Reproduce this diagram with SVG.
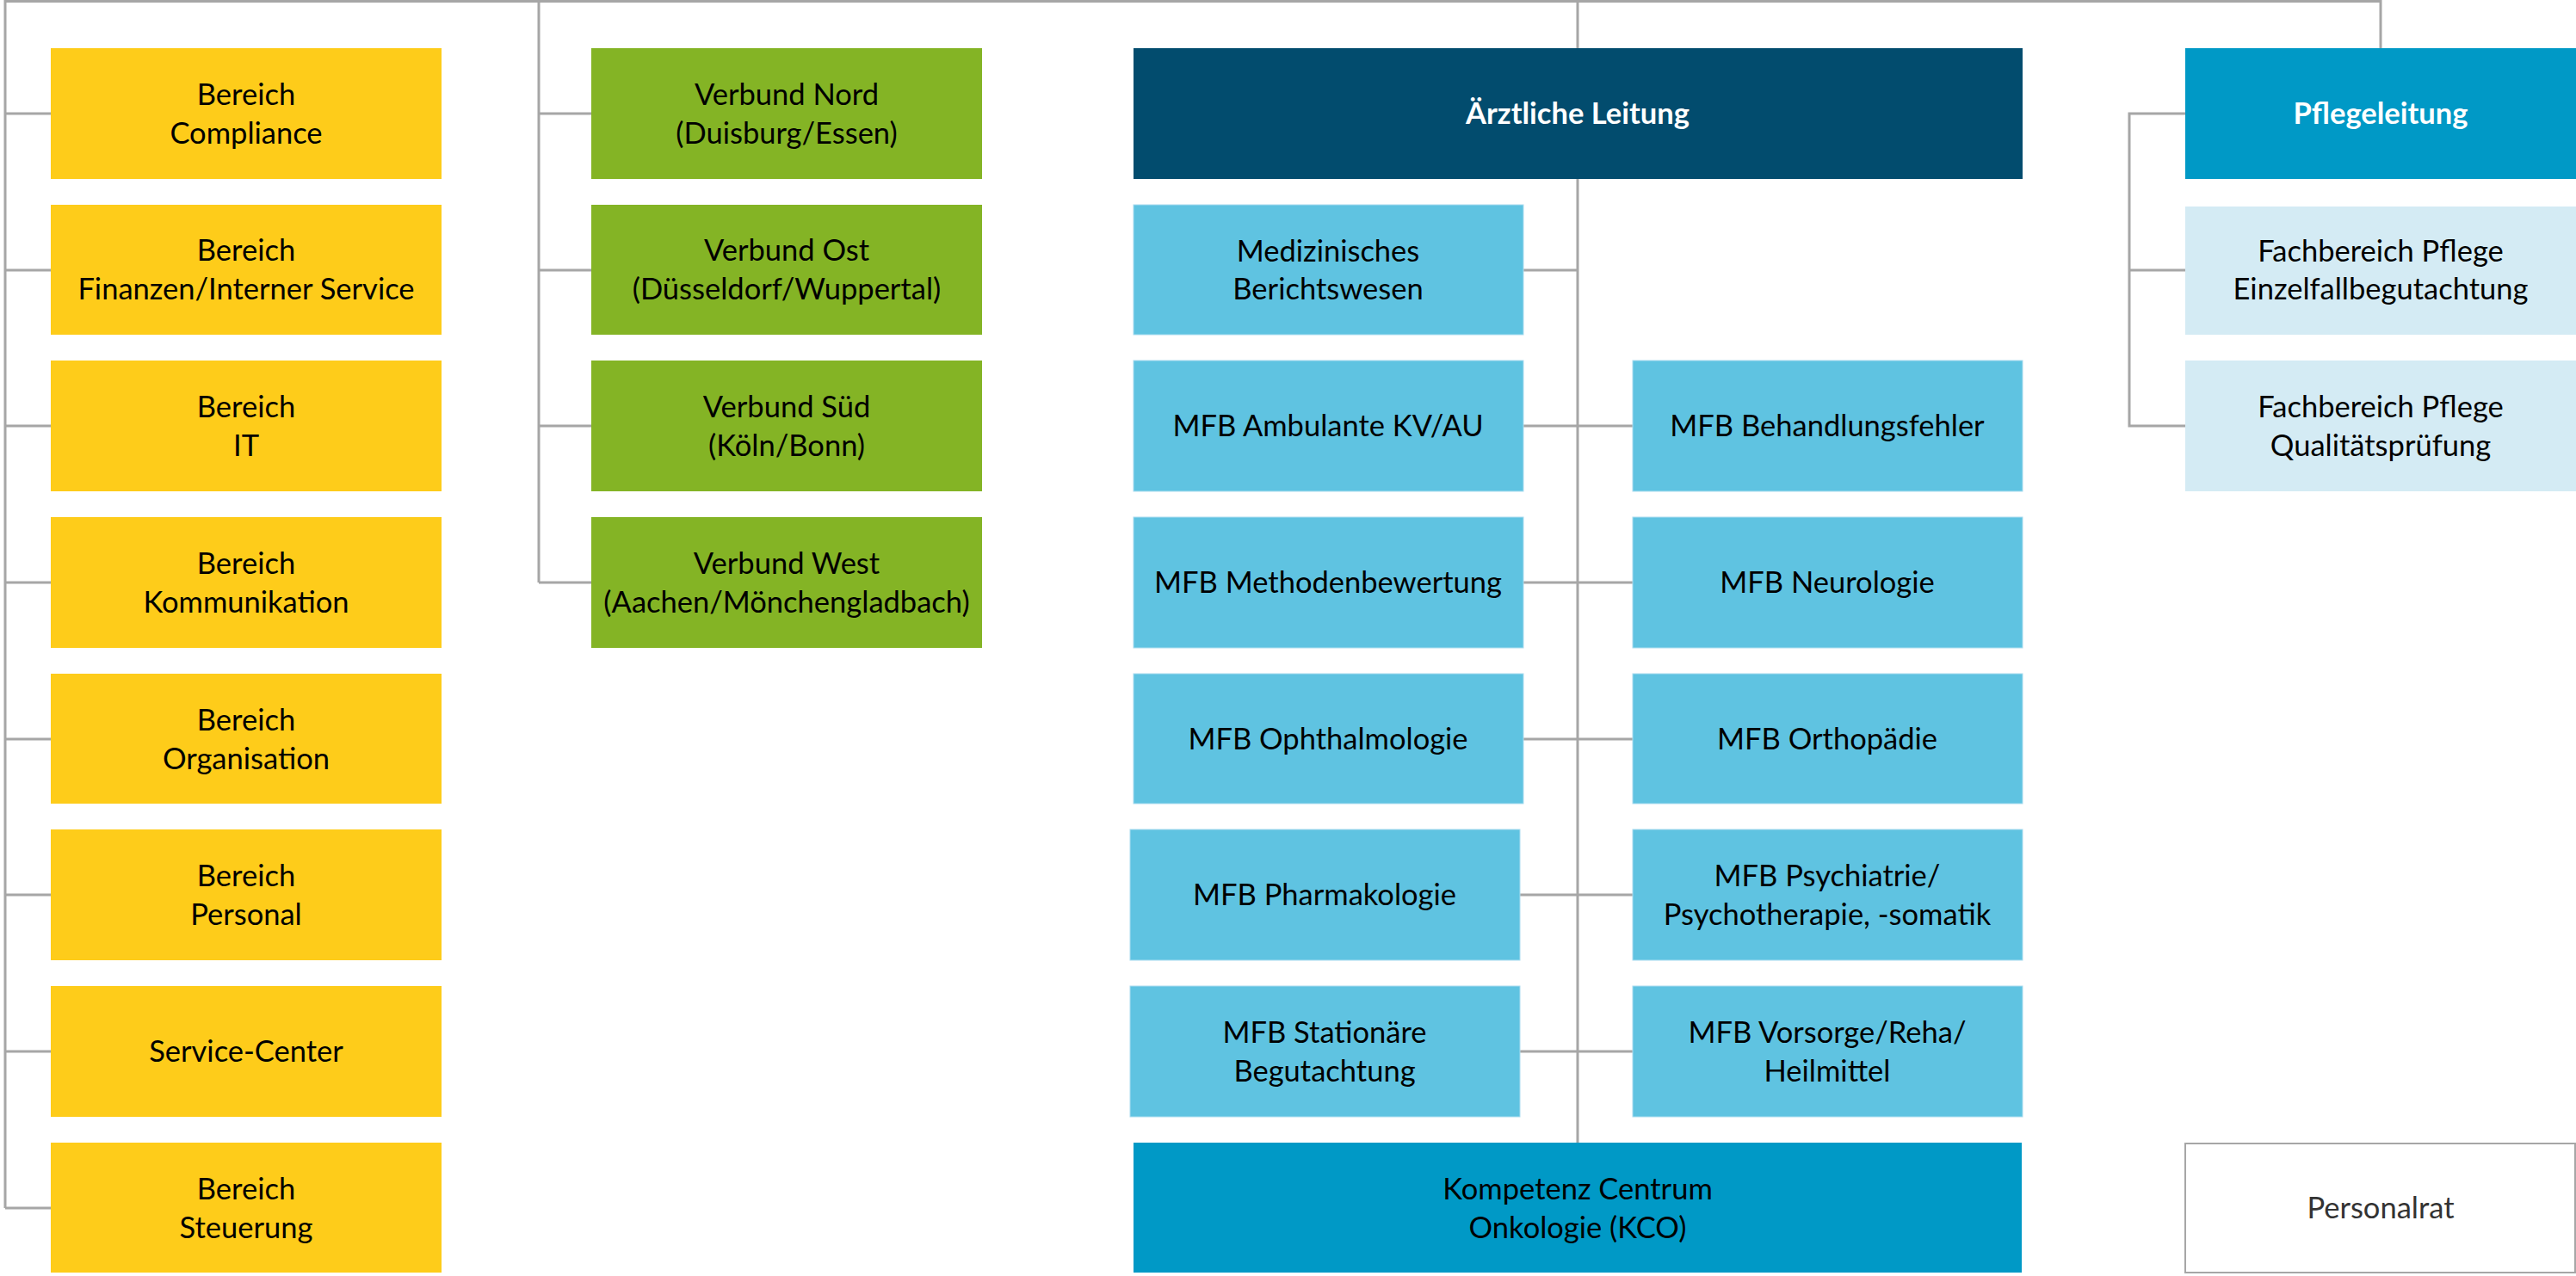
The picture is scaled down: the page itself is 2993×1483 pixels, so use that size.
<svg xmlns="http://www.w3.org/2000/svg" width="2993" height="1483" viewBox="0 0 2993 1483">
<style>
  text { font-family: Lato, "Liberation Sans", sans-serif; font-size: 34.5px; fill: #000; text-anchor: middle; }
  .b { font-weight: bold; fill: #fff; }
  .pr { fill: #333; }
  .y { fill: #FECC1A; }
  .g { fill: #84B425; }
  .d { fill: #024C6E; }
  .l { fill: #5FC3E1; stroke: #A9DCEF; stroke-width: 1; }
  .m { fill: #0099C6; }
  .p { fill: #D4EBF4; }
  .w { fill: #fff; stroke: #A6A6A6; stroke-width: 2; }
  .c { fill: none; stroke: #A6A6A6; stroke-width: 3; }
</style>
<rect width="2993" height="1483" fill="#fff"/>
<g id="connectors">
  <path class="c" d="M6,1.5 H2766 M6,0 V1404 M626,0 V677 M1833,0 V56 M2766,0 V56"/>
  <path class="c" d="M6,132 H59 M6,314 H59 M6,495 H59 M6,677 H59 M6,859 H59 M6,1040 H59 M6,1222 H59 M6,1404 H59"/>
  <path class="c" d="M626,132 H687 M626,314 H687 M626,495 H687 M626,677 H687"/>
  <path class="c" d="M1833,208 V1328 M1770,314 H1833 M1770,495 H1897 M1770,677 H1897 M1770,859 H1897 M1766,1040 H1897 M1766,1222 H1897"/>
  <path class="c" d="M2539,132 H2474 V495 H2539 M2474,314 H2539"/>
</g>
<g id="bereich-compliance"><rect class="y" x="59" y="56" width="454" height="152"/><text x="286" y="122">Bereich</text><text x="286" y="167">Compliance</text></g>
<g id="bereich-finanzen"><rect class="y" x="59" y="238" width="454" height="151"/><text x="286" y="303">Bereich</text><text x="286" y="348">Finanzen/Interner Service</text></g>
<g id="bereich-it"><rect class="y" x="59" y="419" width="454" height="152"/><text x="286" y="485">Bereich</text><text x="286" y="530">IT</text></g>
<g id="bereich-kommunikation"><rect class="y" x="59" y="601" width="454" height="152"/><text x="286" y="667">Bereich</text><text x="286" y="712">Kommunikation</text></g>
<g id="bereich-organisation"><rect class="y" x="59" y="783" width="454" height="151"/><text x="286" y="849">Bereich</text><text x="286" y="894">Organisation</text></g>
<g id="bereich-personal"><rect class="y" x="59" y="964" width="454" height="152"/><text x="286" y="1030">Bereich</text><text x="286" y="1075">Personal</text></g>
<g id="service-center"><rect class="y" x="59" y="1146" width="454" height="152"/><text x="286" y="1234">Service-Center</text></g>
<g id="bereich-steuerung"><rect class="y" x="59" y="1328" width="454" height="151"/><text x="286" y="1394">Bereich</text><text x="286" y="1439">Steuerung</text></g>

<g id="verbund-nord"><rect class="g" x="687" y="56" width="454" height="152"/><text x="914" y="122">Verbund Nord</text><text x="914" y="167">(Duisburg/Essen)</text></g>
<g id="verbund-ost"><rect class="g" x="687" y="238" width="454" height="151"/><text x="914" y="303">Verbund Ost</text><text x="914" y="348">(Düsseldorf/Wuppertal)</text></g>
<g id="verbund-sued"><rect class="g" x="687" y="419" width="454" height="152"/><text x="914" y="485">Verbund Süd</text><text x="914" y="530">(Köln/Bonn)</text></g>
<g id="verbund-west"><rect class="g" x="687" y="601" width="454" height="152"/><text x="914" y="667">Verbund West</text><text x="914" y="712">(Aachen/Mönchengladbach)</text></g>

<g id="aerztliche-leitung"><rect class="d" x="1317" y="56" width="1033" height="152"/><text class="b" x="1833" y="144">Ärztliche Leitung</text></g>
<g id="med-berichtswesen"><rect class="l" x="1317" y="238" width="453" height="151"/><text x="1543" y="304">Medizinisches</text><text x="1543" y="348">Berichtswesen</text></g>
<g id="mfb-ambulante"><rect class="l" x="1317" y="419" width="453" height="152"/><text x="1543" y="507">MFB Ambulante KV/AU</text></g>
<g id="mfb-methoden"><rect class="l" x="1317" y="601" width="453" height="152"/><text x="1543" y="689">MFB Methodenbewertung</text></g>
<g id="mfb-ophthalmologie"><rect class="l" x="1317" y="783" width="453" height="151"/><text x="1543" y="871">MFB Ophthalmologie</text></g>
<g id="mfb-pharmakologie"><rect class="l" x="1313" y="964" width="453" height="152"/><text x="1539" y="1052">MFB Pharmakologie</text></g>
<g id="mfb-stationaere"><rect class="l" x="1313" y="1146" width="453" height="152"/><text x="1539" y="1212">MFB Stationäre</text><text x="1539" y="1257">Begutachtung</text></g>
<g id="mfb-behandlungsfehler"><rect class="l" x="1897" y="419" width="453" height="152"/><text x="2123" y="507">MFB Behandlungsfehler</text></g>
<g id="mfb-neurologie"><rect class="l" x="1897" y="601" width="453" height="152"/><text x="2123" y="689">MFB Neurologie</text></g>
<g id="mfb-orthopaedie"><rect class="l" x="1897" y="783" width="453" height="151"/><text x="2123" y="871">MFB Orthopädie</text></g>
<g id="mfb-psychiatrie"><rect class="l" x="1897" y="964" width="453" height="152"/><text x="2123" y="1030">MFB Psychiatrie/</text><text x="2123" y="1075">Psychotherapie, -somatik</text></g>
<g id="mfb-vorsorge"><rect class="l" x="1897" y="1146" width="453" height="152"/><text x="2123" y="1212">MFB Vorsorge/Reha/</text><text x="2123" y="1257">Heilmittel</text></g>
<g id="kco"><rect class="m" x="1317" y="1328" width="1032" height="151"/><text x="1833" y="1394">Kompetenz Centrum</text><text x="1833" y="1439">Onkologie (KCO)</text></g>

<g id="pflegeleitung"><rect class="m" x="2539" y="56" width="454" height="152"/><text class="b" x="2766" y="144">Pflegeleitung</text></g>
<g id="fb-pflege-einzelfall"><rect class="p" x="2539" y="240" width="454" height="149"/><text x="2766" y="304">Fachbereich Pflege</text><text x="2766" y="348">Einzelfallbegutachtung</text></g>
<g id="fb-pflege-qualitaet"><rect class="p" x="2539" y="419" width="454" height="152"/><text x="2766" y="485">Fachbereich Pflege</text><text x="2766" y="530">Qualitätsprüfung</text></g>
<g id="personalrat"><rect class="w" x="2539" y="1329" width="453" height="150"/><text class="pr" x="2766" y="1416">Personalrat</text></g>
</svg>
